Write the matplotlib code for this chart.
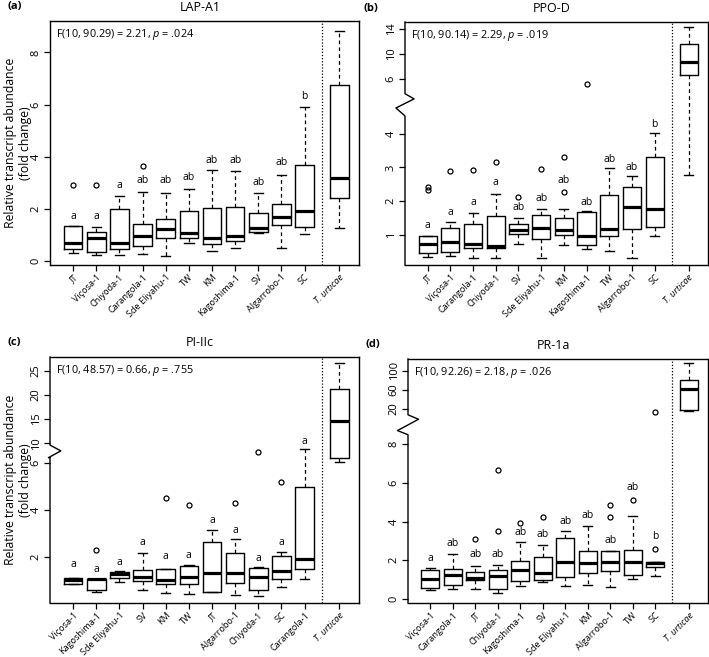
import numpy as np
import matplotlib
matplotlib.use('Agg')
import matplotlib.pyplot as plt
from matplotlib import transforms

plt.rcParams['font.family'] = ['Open Sans', 'DejaVu Sans']
plt.rcParams['mathtext.fontset'] = 'custom'
plt.rcParams['mathtext.rm'] = 'Open Sans'
plt.rcParams['mathtext.it'] = 'Open Sans:italic'

# ---- (a) LAP-A1
a_names = ['JT', 'Viçosa-1', 'Chiyoda-1', 'Carangola-1', 'Sde Eliyahu-1', 'TW', 'KM',
           'Kagoshima-1', 'SV', 'Algarrobo-1', 'SC', 'T. urticae']
a_lo = [0.32, 0.25, 0.25, 0.29, 0.19, 0.68, 0.38, 0.52, 1.06, 0.52, 1.04, 1.27]
a_q1 = [0.45, 0.33, 0.46, 0.56, 0.87, 0.89, 0.64, 0.78, 1.11, 1.40, 1.31, 2.41]
a_med = [0.71, 0.90, 0.70, 0.98, 1.24, 1.08, 0.88, 0.97, 1.27, 1.68, 1.91, 3.20]
a_q3 = [1.33, 1.13, 2.00, 1.43, 1.63, 1.93, 2.05, 2.08, 1.85, 2.20, 3.69, 6.75]
a_hi = [1.33, 1.29, 2.51, 2.65, 2.62, 2.76, 3.48, 3.46, 2.59, 3.30, 5.90, 8.83]
a_out = [[2.93], [2.93], [], [3.63], [], [], [], [], [], [], [], []]
a_let = ['a', 'a', 'a', 'ab', 'ab', 'ab', 'ab', 'ab', 'ab', 'ab', 'b']
a_lab = [1.72, 1.72, 2.90, 3.07, 3.07, 3.22, 3.86, 3.86, 3.00, 3.76, 6.31]

# ---- (b) PPO-D
b_names = ['JT', 'Viçosa-1', 'Carangola-1', 'Chiyoda-1', 'SV', 'Sde Eliyahu-1', 'KM',
           'Kagoshima-1', 'TW', 'Algarrobo-1', 'SC', 'T. urticae']
b_lo = [0.35, 0.38, 0.32, 0.32, 0.73, 0.32, 0.70, 0.59, 0.52, 0.31, 0.96, 2.76]
b_q1 = [0.47, 0.50, 0.63, 0.63, 1.04, 0.87, 0.99, 0.72, 0.97, 1.19, 1.25, 6.6]
b_med = [0.74, 0.80, 0.75, 0.69, 1.14, 1.20, 1.16, 0.96, 1.18, 1.83, 1.78, 8.7]
b_q3 = [0.96, 1.22, 1.32, 1.56, 1.33, 1.59, 1.50, 1.67, 2.18, 2.41, 3.30, 11.6]
b_hi = [0.96, 1.40, 1.64, 2.20, 1.49, 1.76, 1.76, 1.70, 2.99, 2.74, 4.01, 14.3]
b_out = [[2.33, 2.41], [2.89], [2.93], [3.15], [2.11], [2.95], [2.28, 3.30], [5.8],
         [], [], [], []]
b_let = ['a', 'a', 'a', 'a', 'ab', 'ab', 'ab', 'ab', 'ab', 'ab', 'b']
b_lab = [1.28, 1.67, 1.96, 2.55, 1.80, 2.09, 2.60, 1.97, 3.22, 2.99, 4.32]

# ---- (c) PI-IIc
c_names = ['Viçosa-1', 'Kagoshima-1', 'Sde Eliyahu-1', 'SV', 'KM', 'TW', 'JT',
           'Algarrobo-1', 'Chiyoda-1', 'SC', 'Carangola-1', 'T. urticae']
c_lo = [0.86, 0.51, 0.93, 0.61, 0.47, 0.44, 0.51, 0.37, 0.33, 0.71, 1.07, 6.2]
c_q1 = [0.86, 0.59, 1.11, 0.96, 0.84, 0.84, 0.51, 0.88, 0.61, 1.04, 1.47, 6.9]
c_med = [1.00, 1.04, 1.29, 1.16, 1.01, 1.16, 1.32, 1.32, 1.13, 1.40, 1.90, 14.6]
c_q3 = [1.11, 1.07, 1.37, 1.44, 1.47, 1.59, 2.61, 2.18, 1.53, 2.04, 4.97, 21.2]
c_hi = [1.11, 1.07, 1.40, 2.17, 1.50, 1.64, 3.15, 2.75, 1.57, 2.19, 8.8, 26.5]
c_out = [[], [2.3], [], [], [4.5], [4.19], [], [4.29], [8.2], [5.16], [], []]
c_let = ['a'] * 11
c_lab = [1.66, 1.47, 1.76, 2.59, 2.00, 2.04, 3.54, 3.13, 1.94, 2.61, 10.4]

# ---- (d) PR-1a
d_names = ['Viçosa-1', 'Carangola-1', 'JT', 'Chiyoda-1', 'Kagoshima-1', 'SV',
           'Sde Eliyahu-1', 'KM', 'Algarrobo-1', 'TW', 'SC', 'T. urticae']
d_lo = [0.46, 0.53, 0.53, 0.31, 0.68, 0.89, 0.67, 0.72, 0.63, 1.01, 1.18, 19.1]
d_q1 = [0.57, 0.72, 0.98, 0.50, 0.94, 0.98, 1.11, 1.34, 1.42, 1.25, 1.63, 19.6]
d_med = [1.03, 1.25, 1.06, 1.16, 1.51, 1.32, 1.88, 1.87, 1.92, 1.92, 1.85, 62]
d_q3 = [1.49, 1.54, 1.40, 1.49, 1.93, 2.14, 3.17, 2.48, 2.48, 2.53, 1.92, 80]
d_hi = [1.59, 2.33, 1.70, 1.75, 2.93, 2.77, 3.49, 3.78, 2.48, 4.30, 1.92, 116]
d_out = [[], [], [3.12], [3.51, 6.68], [3.92], [4.25], [], [], [4.25, 4.86], [5.12],
         [2.60, 18.8], []]
d_let = ['a'] + ['ab'] * 9 + ['b']
d_lab = [2.10, 2.86, 2.28, 2.28, 3.42, 3.32, 3.99, 4.30, 3.03, 5.74, 3.20]


def piecewise(vals, heights):
    # broken-axis style scale: linear pieces between anchor values
    vals = np.asarray(vals, float)
    heights = np.asarray(heights, float)

    def f(v, a, b):
        v = np.asarray(v, float)
        out = np.interp(v, a, b)
        s0 = (b[1] - b[0]) / (a[1] - a[0])
        s1 = (b[-1] - b[-2]) / (a[-1] - a[-2])
        out = np.where(v < a[0], b[0] + (v - a[0]) * s0, out)
        out = np.where(v > a[-1], b[-1] + (v - a[-1]) * s1, out)
        return out

    return (lambda v: f(v, vals, heights)), (lambda v: f(v, heights, vals))


W, H = 709, 657
fig = plt.figure(figsize=(W / 100, H / 100), dpi=100)

positions = list(range(1, 12)) + [12.5]


def panel(rect, letter, title, names, lo, q1, med, q3, hi, out, let, lab, stat,
          ylim, yticks, scale=None, zigzag=None, ylabel=False):
    l, t, r, b = rect
    ax = fig.add_axes([l / W, 1 - b / H, (r - l) / W, (b - t) / H])
    if scale is not None:
        ax.set_yscale('function', functions=piecewise(*scale))
    stats = []
    for i in range(len(names)):
        stats.append(dict(whislo=lo[i], q1=q1[i], med=med[i], q3=q3[i],
                          whishi=hi[i], fliers=out[i]))
    ax.bxp(stats, positions=positions, widths=0.8, manage_ticks=False,
           boxprops=dict(color='k', lw=1.0),
           medianprops=dict(color='k', lw=2.3, solid_capstyle='butt'),
           whiskerprops=dict(color='k', lw=0.9, ls=(0, (3, 2.5))),
           capprops=dict(color='k', lw=1.0),
           flierprops=dict(marker='o', mfc='none', mec='k', ms=3.6, mew=0.9))
    for i in range(len(let)):
        ax.text(positions[i], lab[i], let[i], ha='center', va='center', fontsize=7.5)
    ax.axvline(11.75, color='k', ls=(0, (1, 1.5)), lw=0.9)
    ax.set_xlim(0, 13.35)
    ax.set_ylim(*ylim)
    ax.set_yticks(yticks)
    ax.set_yticklabels([str(v) for v in yticks])
    ax.set_xticks(positions)
    ax.set_xticklabels(names, rotation=45, ha='right', rotation_mode='anchor')
    ax.get_xticklabels()[-1].set_fontstyle('italic')
    ax.tick_params(axis='x', length=4, width=0.9, labelsize=6.6, pad=1.5)
    ax.tick_params(axis='y', length=4, width=0.9, labelsize=8, pad=2,
                   labelrotation=90)
    for lbl in ax.get_yticklabels():
        lbl.set_va('center')
    for sp in ax.spines.values():
        sp.set_linewidth(1.0)
    if zigzag is not None:
        ax.spines['left'].set_visible(False)
        tr = transforms.blended_transform_factory(ax.transAxes, ax.transData)
        xs = [0, 0] + [p[0] for p in zigzag] + [0, 0]
        ys = [ylim[1], zigzag[0][1]] + [p[1] for p in zigzag] + [zigzag[-1][1], ylim[0]]
        ax.plot(xs, ys, color='k', lw=1.0, transform=tr, clip_on=False)
    ax.text(0.02, 0.945, stat, transform=ax.transAxes, fontsize=7.8, va='center')
    ax.text(0.485, 1.057, title, transform=ax.transAxes, ha='center', va='center',
            fontsize=9)
    fig.text((l - 42) / W, 1 - (t - 14) / H, letter, fontsize=8, fontweight='bold',
             va='center', ha='left')
    if ylabel:
        ax.text(-0.105, 0.5, 'Relative transcript abundance\n(fold change)',
                transform=ax.transAxes, rotation=90, ha='center', va='center',
                fontsize=8.8, multialignment='center')
    return ax


panel((50, 21, 359, 265), '(a)', 'LAP-A1', a_names, a_lo, a_q1, a_med, a_q3, a_hi,
      a_out, a_let, a_lab, r'F($\mathit{10}$, $\mathit{90.29}$) = 2.21, $\mathit{p}$ = .024',
      (-0.15, 9.2), [0, 2, 4, 6, 8], ylabel=True)

panel((405, 22, 708, 265), '(b)', 'PPO-D', b_names, b_lo, b_q1, b_med, b_q3, b_hi,
      b_out, b_let, b_lab, r'F($\mathit{10}$, $\mathit{90.14}$) = 2.29, $\mathit{p}$ = .019',
      (0.115, 15.07), [1, 2, 3, 4, 6, 10, 14],
      scale=([1, 4, 6, 14], [0, 101.7, 156.7, 206.7]),
      zigzag=[(0.0, 5.45), (0.03, 5.26), (-0.03, 4.93), (0.0, 4.64)])

panel((50, 357, 359, 603), '(c)', 'PI-IIc', c_names, c_lo, c_q1, c_med, c_q3, c_hi,
      c_out, c_let, c_lab, r'F($\mathit{10}$, $\mathit{48.57}$) = 0.66, $\mathit{p}$ = .755',
      (0.04, 27.8), [2, 4, 6, 10, 15, 20, 25],
      scale=([2, 6, 25], [0, 93.3, 184.3]),
      zigzag=[(0.0, 9.6), (0.035, 8.4), (-0.005, 7.0)], ylabel=True)

panel((408, 359, 708, 603), '(d)', 'PR-1a', d_names, d_lo, d_q1, d_med, d_q3, d_hi,
      d_out, d_let, d_lab, r'F($\mathit{10}$, $\mathit{92.26}$) = 2.18, $\mathit{p}$ = .026',
      (-0.22, 124.3), [0, 2, 4, 6, 8, 20, 60, 100],
      scale=([0, 8, 20, 100], [0, 155.7, 191.7, 230]),
      zigzag=[(0.0, 17.9), (0.035, 16.4), (-0.035, 12.6), (0.0, 11.2)])

fig.savefig('out.png', dpi=100)
